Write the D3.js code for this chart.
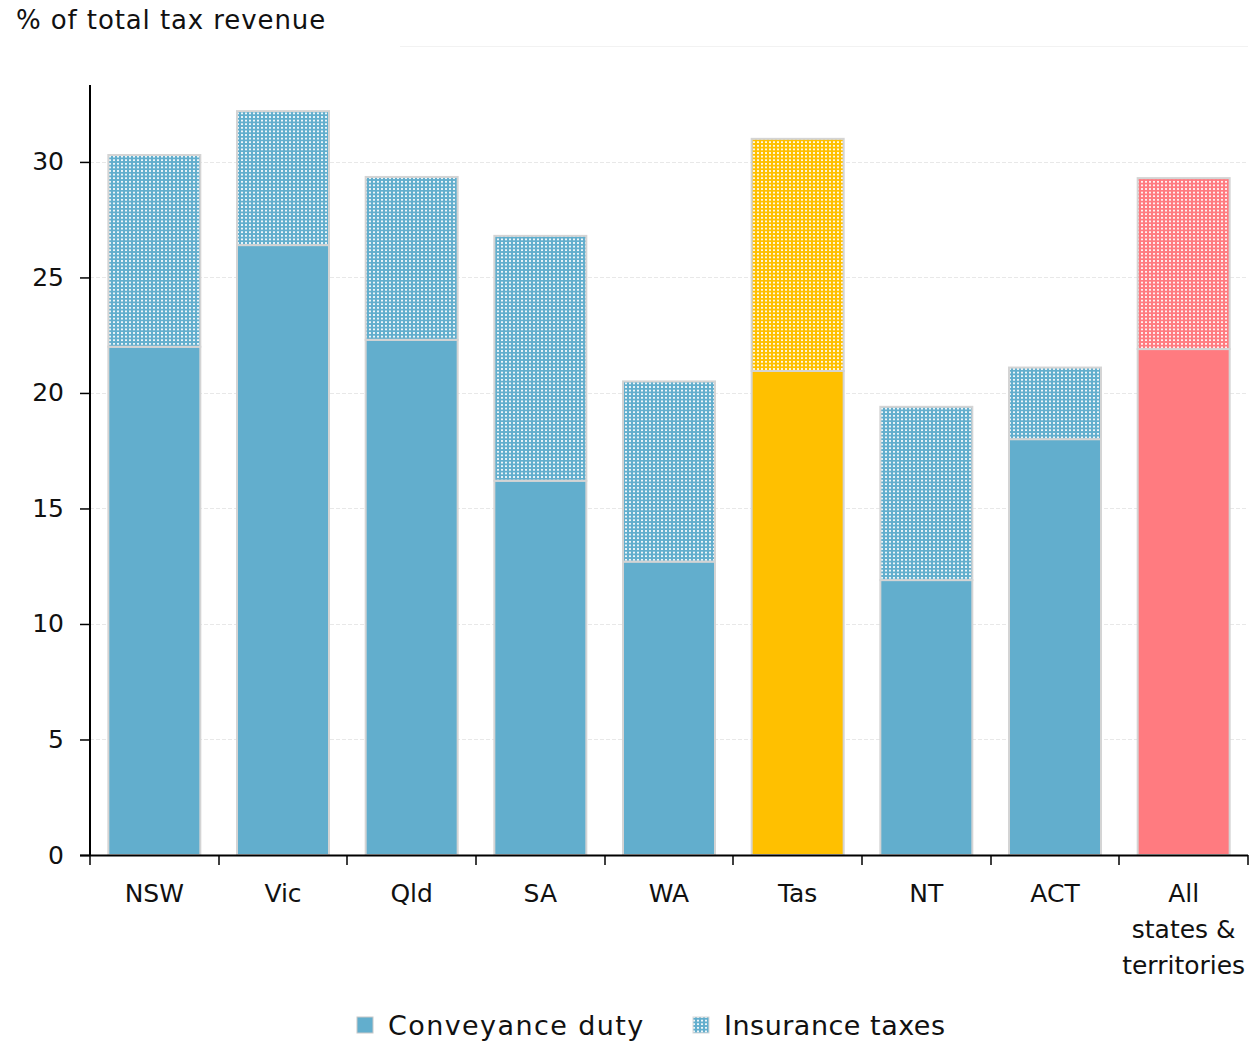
<!DOCTYPE html>
<html><head><meta charset="utf-8">
<script src="https://cdn.jsdelivr.net/npm/d3@7"></script>
<style>body{margin:0;background:#fff;} svg{display:block;} text{font-family:"DejaVu Sans",sans-serif;fill:#111;}</style>
</head><body>
<svg id="c" width="1249" height="1041"></svg>
<script>
const categories = ["NSW","Vic","Qld","SA","WA","Tas","NT","ACT","All states & territories"];
const conveyance = [22.0, 26.4, 22.3, 16.2, 12.7, 20.95, 11.9, 18.0, 21.9];
const insurance  = [8.3, 5.8, 7.05, 10.6, 7.8, 10.05, 7.5, 3.1, 7.4];
const barColors  = ["#62aecd","#62aecd","#62aecd","#62aecd","#62aecd","#ffc000","#62aecd","#62aecd","#ff7b80"];
const yTicks = [0,5,10,15,20,25,30];
const labelLines = [["NSW"],["Vic"],["Qld"],["SA"],["WA"],["Tas"],["NT"],["ACT"],["All","states &","territories"]];

const FONT = "DejaVu Sans, sans-serif";
const svg = d3.select("#c");
const x = d3.scaleBand().domain(categories).range([90,1248]).paddingInner(0.285).paddingOuter(0.1425);
const y = d3.scaleLinear().domain([0,33.33]).range([855,85]);

// patterns
const defs = svg.append("defs");
const uniq = Array.from(new Set(barColors));
uniq.forEach((c,i)=>{
  const p = defs.append("pattern").attr("id","pat"+i).attr("patternUnits","userSpaceOnUse")
    .attr("width",4).attr("height",3.6);
  p.append("rect").attr("width",4).attr("height",3.6).attr("fill",c);
  p.append("rect").attr("x",1).attr("y",1).attr("width",2).attr("height",1.6).attr("fill","#fff");
});
const patId = c => "url(#pat"+uniq.indexOf(c)+")";

// faint top line
svg.append("line").attr("x1",400).attr("x2",1248).attr("y1",46.5).attr("y2",46.5).attr("stroke","#f2f2f2");

// gridlines
svg.append("g").selectAll("line").data(yTicks.filter(d=>d>0)).join("line")
  .attr("x1",90).attr("x2",1248).attr("y1",d=>Math.round(y(d))+0.5).attr("y2",d=>Math.round(y(d))+0.5)
  .attr("stroke","#e8e8e8").attr("stroke-dasharray","4,2");

// bars
const g = svg.append("g");
categories.forEach((cat,i)=>{
  const bx = x(cat), bw = x.bandwidth();
  g.append("rect").attr("x",bx).attr("width",bw)
    .attr("y",y(conveyance[i])).attr("height",y(0)-y(conveyance[i]))
    .attr("fill",barColors[i]).attr("stroke","#d4d4d4").attr("stroke-width",2);
  const top = conveyance[i]+insurance[i];
  g.append("rect").attr("x",bx).attr("width",bw)
    .attr("y",y(top)).attr("height",y(conveyance[i])-y(top))
    .attr("fill",patId(barColors[i])).attr("stroke","#d4d4d4").attr("stroke-width",2);
});

// y axis
const ya = svg.append("g").attr("transform","translate(90,0)")
  .call(d3.axisLeft(y).tickValues(yTicks).tickSize(10).tickPadding(16).tickFormat(d3.format("d")));
ya.select(".domain").attr("stroke","#000").attr("stroke-width",2).attr("d","M0,85V855");
ya.selectAll(".tick line").attr("stroke","#000").attr("stroke-width",1.5);
ya.selectAll("text").style("font-size","25px").style("font-family",FONT).attr("fill","#111");

// x axis
const bounds = categories.map(c=>x(c)-x.step()*x.paddingInner()/2);
bounds.push(1248);
const xa = svg.append("g");
xa.append("line").attr("x1",80).attr("x2",1248).attr("y1",855.5).attr("y2",855.5).attr("stroke","#000").attr("stroke-width",2);
xa.selectAll("line.t").data(bounds).join("line").attr("class","t")
  .attr("x1",d=>Math.round(d)).attr("x2",d=>Math.round(d)).attr("y1",855).attr("y2",865)
  .attr("stroke","#000").attr("stroke-width",1.5);
categories.forEach((cat,i)=>{
  const t = xa.append("text").attr("x",x(cat)+x.bandwidth()/2).attr("y",902)
    .attr("text-anchor","middle").style("font-size","25px");
  labelLines[i].forEach((ln,j)=>t.append("tspan").attr("x",x(cat)+x.bandwidth()/2).attr("dy",j?36:0).text(ln));
});

// title
svg.append("text").attr("x",16).attr("y",29).style("font-size","26px").style("letter-spacing","0.9px").text("% of total tax revenue");

// legend
const lg = svg.append("g");
lg.append("rect").attr("x",357).attr("y",1017).attr("width",16).attr("height",16).attr("fill","#62aecd").attr("stroke","#c8c8c8").attr("stroke-width",1);
lg.append("text").attr("x",388).attr("y",1035).style("font-size","27px").style("letter-spacing","1.4px").text("Conveyance duty");
lg.append("rect").attr("x",693).attr("y",1017).attr("width",16).attr("height",16).attr("fill",patId("#62aecd")).attr("stroke","#d8d8d8").attr("stroke-width",1);
lg.append("text").attr("x",724).attr("y",1035).style("font-size","27px").style("letter-spacing","0.5px").text("Insurance taxes");
</script>
</body></html>
